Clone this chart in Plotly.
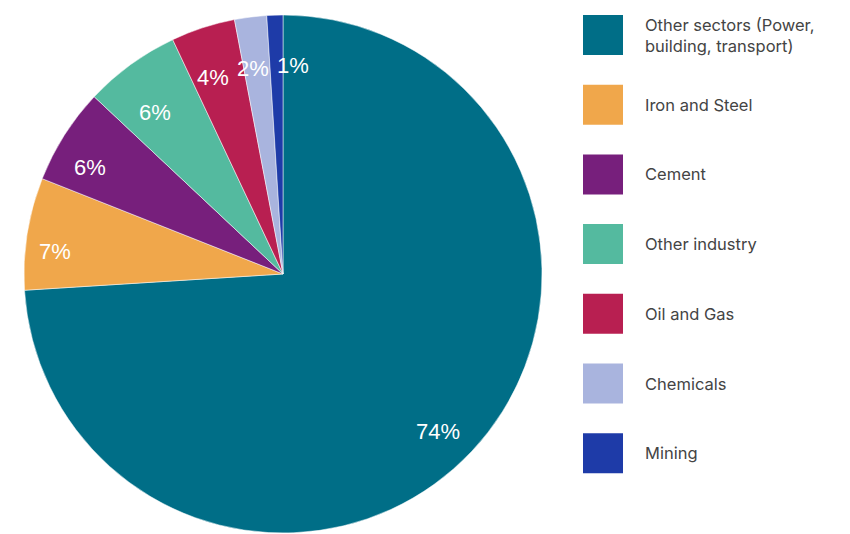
import math
import plotly.graph_objects as go

labels = ["Other sectors (Power,<br>building, transport)", "Iron and Steel", "Cement",
          "Other industry", "Oil and Gas", "Chemicals", "Mining"]
values = [74, 7, 6, 6, 4, 2, 1]
colors = ["#006E87", "#F0A74B", "#771F7C", "#54BA9F", "#B81F51", "#A9B4DE", "#1E3BA8"]

W, H = 850, 534
CX, CY, R = 283, 274, 259  # pie centre / radius in px (layout)

fig = go.Figure()
fig.add_trace(go.Pie(
    labels=labels, values=values, sort=False, direction="clockwise", rotation=0,
    marker=dict(colors=colors, line=dict(color="white", width=0.5)),
    textinfo="none",
    domain=dict(x=[(CX - R) / W, (CX + R) / W], y=[(H - CY - R) / H, (H - CY + R) / H]),
    showlegend=False, hoverinfo="label+percent",
))

# percentage labels placed along each slice's bisector (small pixel nudges for readability)
nudges = [(-4, 9), (-13, 12), (-9, 10), (0, 15), (-3, 10), (-3, 10), (17, 9)]
total = sum(values)
annotations = []
cum = 0
for v, (nx, ny) in zip(values, nudges):
    mid = (cum + v / 2) / total * 2 * math.pi
    cum += v
    px = CX + 0.84 * R * math.sin(mid) + nx
    py = CY - 0.84 * R * math.cos(mid) + ny
    annotations.append(dict(xref="paper", yref="paper", x=px / W, y=1 - py / H,
                            text=f"{round(v / total * 100)}%", showarrow=False,
                            xanchor="center", yanchor="middle",
                            font=dict(family="Liberation Sans, Arial", size=22, color="white")))

# custom legend with large square swatches
sw_x0, sw_size, row_gap, top = 583, 40, 69.7, 15
shapes = []
for i, (lab, col) in enumerate(zip(labels, colors)):
    y0 = top + i * row_gap
    shapes.append(dict(type="rect", xref="paper", yref="paper",
                       x0=sw_x0 / W, x1=(sw_x0 + sw_size) / W,
                       y0=1 - (y0 + sw_size) / H, y1=1 - y0 / H,
                       fillcolor=col, line=dict(width=0)))
    annotations.append(dict(xref="paper", yref="paper", x=643 / W, y=1 - (y0 + sw_size / 2) / H,
                            text=lab, showarrow=False, xanchor="left", yanchor="middle", align="left",
                            font=dict(family="Inter, Roboto, sans-serif", size=16.5, color="#444444")))

fig.update_layout(
    width=W, height=H, margin=dict(l=0, r=0, t=0, b=0),
    paper_bgcolor="white", plot_bgcolor="white",
    shapes=shapes, annotations=annotations,
)
fig.write_html("out.html")
